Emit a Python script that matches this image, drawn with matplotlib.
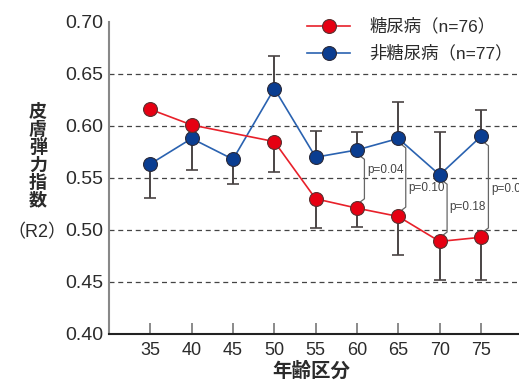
import matplotlib
matplotlib.use("Agg")
import matplotlib.pyplot as plt
import numpy as np

plt.rcParams['font.family'] = ['Liberation Sans', 'Noto Sans CJK JP', 'DejaVu Sans']

ages = [35, 40, 45, 50, 55, 60, 65, 70, 75]
# diabetic (no 45 point)
dm_ages = [35, 40, 50, 55, 60, 65, 70, 75]
dm_vals = [0.616, 0.601, 0.585, 0.530, 0.521, 0.513, 0.489, 0.493]
dm_low = [0.0, 0.0, 0.029, 0.028, 0.018, 0.037, 0.037, 0.041]
# non-diabetic
nd_vals = [0.5635, 0.588, 0.568, 0.636, 0.570, 0.577, 0.588, 0.553, 0.590]
nd_low = [0.033, 0.030, 0.024, 0.0, 0.0, 0.0, 0.0, 0.0, 0.0]
nd_up = [0.0, 0.0, 0.0, 0.031, 0.025, 0.017, 0.035, 0.041, 0.025]

p_ages = [60, 65, 70, 75]
p_labels = ["p=0.04", "p=0.10", "p=0.18", "p=0.01"]
p_text_y = [0.558, 0.540, 0.522, 0.539]

yticks = [0.40, 0.45, 0.50, 0.55, 0.60, 0.65, 0.70]
grid_vals = [0.45, 0.50, 0.55, 0.60, 0.65]

red = '#e60012'
blue = '#0a3d91'
red_line = '#e8202a'
blue_line = '#2a62b0'
txt = '#2b2b2b'
err_c = '#4a4444'

fig = plt.figure(figsize=(5.19, 3.80), dpi=100)
ax = fig.add_axes([109/519, 1-334/380, 1-109/519, (334-22)/380])
ax.set_xlim(30, 79.6)
ax.set_ylim(0.40, 0.70)

for g in grid_vals:
    ax.axhline(g, color='#444444', lw=0.9, ls=(0, (4, 3)), zorder=1)

# error bars
ax.errorbar(dm_ages, dm_vals, yerr=[dm_low, [0]*len(dm_ages)], fmt='none',
            ecolor=err_c, elinewidth=1.4, capsize=4, capthick=1.2, zorder=2)
ax.errorbar(ages, nd_vals, yerr=[nd_low, nd_up], fmt='none',
            ecolor=err_c, elinewidth=1.4, capsize=4, capthick=1.2, zorder=2)

# brackets
dm_map = dict(zip(dm_ages, dm_vals))
nd_map = dict(zip(ages, nd_vals))
for a, lab, ty in zip(p_ages, p_labels, p_text_y):
    top = nd_map[a] - 0.006
    bot = dm_map[a] + 0.006
    xo = a + 0.9
    ax.plot([a + 0.4, xo, xo, a + 0.4], [top, top - 0.003, bot + 0.003, bot],
            color='#666666', lw=0.9, zorder=2)
    ax.text(xo + 0.3, ty, lab, fontsize=8.5, color='#444444',
            va='center', ha='left', zorder=5)

ax.plot(dm_ages, dm_vals, '-o', color=red_line, lw=1.2, marker='o', ms=10,
        mfc=red, mec='#5a3030', mew=0.8, zorder=4, label='糖尿病（n=76）')
ax.plot(ages, nd_vals, '-o', color=blue_line, lw=1.2, marker='o', ms=10,
        mfc=blue, mec='#2a2a3a', mew=0.8, zorder=3, label='非糖尿病（n=77）')

ax.set_xticks(ages)
ax.set_xticklabels([str(a) for a in ages], fontsize=13, color=txt)
ax.set_yticks(yticks)
ax.set_yticklabels([f"{v:.2f}" for v in yticks], fontsize=14, color=txt)
ax.tick_params(axis='x', direction='in', length=8, width=1.2, color='#777777', pad=6)
ax.tick_params(axis='y', length=0, pad=4)

for s in ['top', 'right']:
    ax.spines[s].set_visible(False)
ax.spines['left'].set_color('#888888')
ax.spines['left'].set_linewidth(1.5)
ax.spines['bottom'].set_color('#222222')
ax.spines['bottom'].set_linewidth(1.5)

leg = ax.legend(loc='upper left', bbox_to_anchor=(307/519, 1-18/380),
                bbox_transform=fig.transFigure, frameon=False, fontsize=12.5,
                handlelength=2.5, handletextpad=1.1, labelspacing=0.6,
                borderpad=0, borderaxespad=0)
for t in leg.get_texts():
    t.set_color(txt)

fig.text(38/519, 1-157/380, "\n".join("皮膚弾力指数"), fontsize=13, fontweight='bold',
         color=txt, ha='center', va='center', linespacing=1.03)
fig.text(37/519, 1-233/380, "（R2）", fontsize=13, color=txt, ha='center', va='center')
fig.text(311/519, 1-371/380, "年齢区分", fontsize=14, fontweight='bold', color=txt,
         ha='center', va='center')

fig.savefig("out.png", dpi=100)
